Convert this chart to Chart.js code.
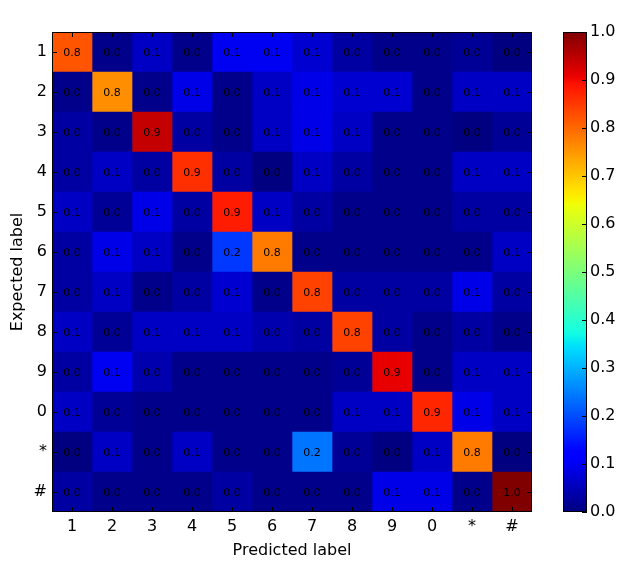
<!DOCTYPE html>
<html>
<head>
<meta charset="utf-8">
<script src="https://cdn.jsdelivr.net/npm/chart.js@4"></script>
<style>
  body { margin: 0; background: #fff; }
  .wrap { position: relative; width: 626px; height: 570px; }
  canvas { position: absolute; left: 0; top: 0; }
</style>
</head>
<body>
<div class="wrap">
  <canvas id="matrixChart" width="626" height="570"></canvas>
  <canvas id="colorbarChart" width="626" height="570"></canvas>
</div>
<script>
// labels for both axes
const rowLabels = ['1', '2', '3', '4', '5', '6', '7', '8', '9', '0', '*', '#'];
const colLabels = ['1', '2', '3', '4', '5', '6', '7', '8', '9', '0', '*', '#'];

// normalized confusion matrix, one array per expected label
const row1  = [0.82, 0.01, 0.06, 0.01, 0.10, 0.10, 0.07, 0.03, 0.01, 0.01, 0.02, 0.00];
const row2  = [0.01, 0.76, 0.01, 0.09, 0.01, 0.06, 0.09, 0.07, 0.07, 0.01, 0.06, 0.06];
const row3  = [0.03, 0.01, 0.94, 0.03, 0.01, 0.06, 0.09, 0.06, 0.01, 0.01, 0.00, 0.02];
const row4  = [0.03, 0.06, 0.03, 0.86, 0.03, 0.00, 0.06, 0.03, 0.01, 0.01, 0.06, 0.06];
const row5  = [0.06, 0.02, 0.09, 0.03, 0.88, 0.06, 0.03, 0.01, 0.01, 0.01, 0.03, 0.03];
const row6  = [0.03, 0.09, 0.06, 0.01, 0.18, 0.78, 0.01, 0.01, 0.01, 0.01, 0.01, 0.06];
const row7  = [0.03, 0.06, 0.01, 0.03, 0.07, 0.01, 0.84, 0.03, 0.03, 0.03, 0.09, 0.03];
const row8  = [0.06, 0.02, 0.06, 0.06, 0.06, 0.04, 0.03, 0.84, 0.03, 0.01, 0.03, 0.01];
const row9  = [0.03, 0.10, 0.04, 0.01, 0.01, 0.01, 0.01, 0.02, 0.91, 0.01, 0.06, 0.06];
const row10 = [0.06, 0.02, 0.01, 0.01, 0.01, 0.01, 0.01, 0.06, 0.06, 0.87, 0.09, 0.06];
const row11 = [0.00, 0.06, 0.01, 0.06, 0.01, 0.01, 0.24, 0.02, 0.00, 0.06, 0.78, 0.00];
const row12 = [0.03, 0.01, 0.01, 0.01, 0.03, 0.01, 0.01, 0.01, 0.09, 0.09, 0.01, 1.00];
const matrix = [row1, row2, row3, row4, row5, row6, row7, row8, row9, row10, row11, row12];

const colorbarTicks = [0, 0.1, 0.2, 0.3, 0.4, 0.5, 0.6, 0.7, 0.8, 0.9, 1.0];

const FONT = 'DejaVu Sans';

// matplotlib "jet" colormap
const jetSegments = {
    r: [[0, 0], [0.35, 0], [0.66, 1], [0.89, 1], [1, 0.5]],
    g: [[0, 0], [0.125, 0], [0.375, 1], [0.64, 1], [0.91, 0], [1, 0]],
    b: [[0, 0.5], [0.11, 1], [0.34, 1], [0.65, 0], [1, 0]]
};

function interp(points, t) {
    for (let i = 1; i < points.length; i++) {
        if (t <= points[i][0]) {
            const [x0, y0] = points[i - 1];
            const [x1, y1] = points[i];
            return y0 + (y1 - y0) * (t - x0) / (x1 - x0);
        }
    }
    return points[points.length - 1][1];
}

function jet(v) {
    const t = Math.max(0, Math.min(1, v));
    const r = Math.round(interp(jetSegments.r, t) * 255);
    const g = Math.round(interp(jetSegments.g, t) * 255);
    const b = Math.round(interp(jetSegments.b, t) * 255);
    return `rgb(${r}, ${g}, ${b})`;
}

// one dataset per predicted label: a floating bar [j, j+1] in each row
const datasets = colLabels.map((label, j) => ({
    label: label,
    data: rowLabels.map(() => [j, j + 1]),
    backgroundColor: matrix.map(row => jet(row[j])),
    borderWidth: 0,
    grouped: false,
    barPercentage: 1,
    categoryPercentage: 1
}));

function drawFrame(chart) {
    const { ctx, chartArea: a } = chart;
    ctx.save();
    ctx.strokeStyle = '#000';
    ctx.lineWidth = 1;
    ctx.strokeRect(a.left + 0.5, a.top + 0.5, a.right - a.left - 1, a.bottom - a.top - 1);
    ctx.restore();
}

const cellTextPlugin = {
    id: 'cellText',
    afterDatasetsDraw(chart) {
        const { ctx, scales: { x, y } } = chart;
        ctx.save();
        ctx.fillStyle = '#000';
        ctx.font = `11px "${FONT}"`;
        ctx.textAlign = 'center';
        ctx.textBaseline = 'middle';
        matrix.forEach((row, i) => {
            row.forEach((v, j) => {
                ctx.fillText(v.toFixed(1), x.getPixelForValue(j + 0.5), y.getPixelForValue(i) + 1);
            });
        });
        ctx.restore();
    },
    afterDraw(chart) {
        const { ctx, chartArea: a, scales: { x, y } } = chart;
        drawFrame(chart);
        // inward tick marks on all four sides
        ctx.save();
        ctx.strokeStyle = '#000';
        ctx.lineWidth = 1;
        ctx.beginPath();
        x.ticks.forEach(t => {
            const px = Math.round(x.getPixelForValue(t.value)) + 0.5;
            ctx.moveTo(px, a.top); ctx.lineTo(px, a.top + 5);
            ctx.moveTo(px, a.bottom); ctx.lineTo(px, a.bottom - 5);
        });
        rowLabels.forEach((_, i) => {
            const py = Math.round(y.getPixelForValue(i)) + 0.5;
            ctx.moveTo(a.left, py); ctx.lineTo(a.left + 5, py);
            ctx.moveTo(a.right, py); ctx.lineTo(a.right - 5, py);
        });
        ctx.stroke();
        ctx.restore();
    }
};

new Chart(document.getElementById('matrixChart'), {
    type: 'bar',
    data: { labels: rowLabels, datasets: datasets },
    options: {
        indexAxis: 'y',
        responsive: false,
        maintainAspectRatio: false,
        animation: false,
        layout: { padding: { left: 0, top: 32, right: 94, bottom: 0 } },
        plugins: { legend: { display: false }, tooltip: { enabled: false } },
        scales: {
            x: {
                type: 'linear',
                min: 0,
                max: colLabels.length,
                afterFit: (scale) => { scale.height = 58; },
                afterBuildTicks: (scale) => {
                    scale.ticks = colLabels.map((_, i) => ({ value: i + 0.5 }));
                },
                ticks: {
                    autoSkip: false,
                    maxRotation: 0,
                    padding: 5,
                    color: '#000',
                    font: { family: FONT, size: 16 },
                    callback: (value, index) => colLabels[index]
                },
                grid: { display: false, drawTicks: false },
                border: { display: false },
                title: {
                    display: true,
                    text: 'Predicted label',
                    color: '#000',
                    font: { family: FONT, size: 16 },
                    padding: { top: 0, bottom: 10 }
                }
            },
            y: {
                type: 'category',
                afterFit: (scale) => { scale.width = 52; },
                ticks: {
                    padding: 5,
                    color: '#000',
                    font: { family: FONT, size: 16 }
                },
                grid: { display: false, drawTicks: false },
                border: { display: false },
                title: {
                    display: true,
                    text: 'Expected label',
                    color: '#000',
                    font: { family: FONT, size: 16 },
                    padding: { top: 8, bottom: 0 }
                }
            }
        }
    },
    plugins: [cellTextPlugin]
});

// colorbar
const colorbarPlugin = {
    id: 'colorbarTicks',
    afterDraw(chart) {
        const { ctx, chartArea: a, scales: { y } } = chart;
        drawFrame(chart);
        ctx.save();
        ctx.strokeStyle = '#000';
        ctx.lineWidth = 1;
        ctx.beginPath();
        colorbarTicks.forEach(v => {
            const py = Math.round(y.getPixelForValue(v)) + 0.5;
            ctx.moveTo(a.right, py); ctx.lineTo(a.right - 5, py);
        });
        ctx.stroke();
        ctx.restore();
    }
};

new Chart(document.getElementById('colorbarChart'), {
    type: 'bar',
    data: {
        labels: ['value'],
        datasets: [{
            data: [[0, 1]],
            backgroundColor: (context) => {
                const area = context.chart.chartArea;
                if (!area) return null;
                const grad = context.chart.ctx.createLinearGradient(0, area.bottom, 0, area.top);
                for (let s = 0; s <= 100; s++) grad.addColorStop(s / 100, jet(s / 100));
                return grad;
            },
            borderWidth: 0,
            barPercentage: 1,
            categoryPercentage: 1
        }]
    },
    options: {
        responsive: false,
        maintainAspectRatio: false,
        animation: false,
        layout: { padding: { left: 563, top: 32, right: 0, bottom: 58 } },
        plugins: { legend: { display: false }, tooltip: { enabled: false } },
        scales: {
            x: { display: false },
            y: {
                position: 'right',
                min: 0,
                max: 1,
                afterFit: (scale) => { scale.width = 39; },
                afterBuildTicks: (scale) => {
                    scale.ticks = colorbarTicks.map(v => ({ value: v }));
                },
                ticks: {
                    padding: 3,
                    color: '#000',
                    font: { family: FONT, size: 16 },
                    callback: (value) => Number(value).toFixed(1)
                },
                grid: { display: false, drawTicks: false },
                border: { display: false }
            }
        }
    },
    plugins: [colorbarPlugin]
});
</script>
</body>
</html>
